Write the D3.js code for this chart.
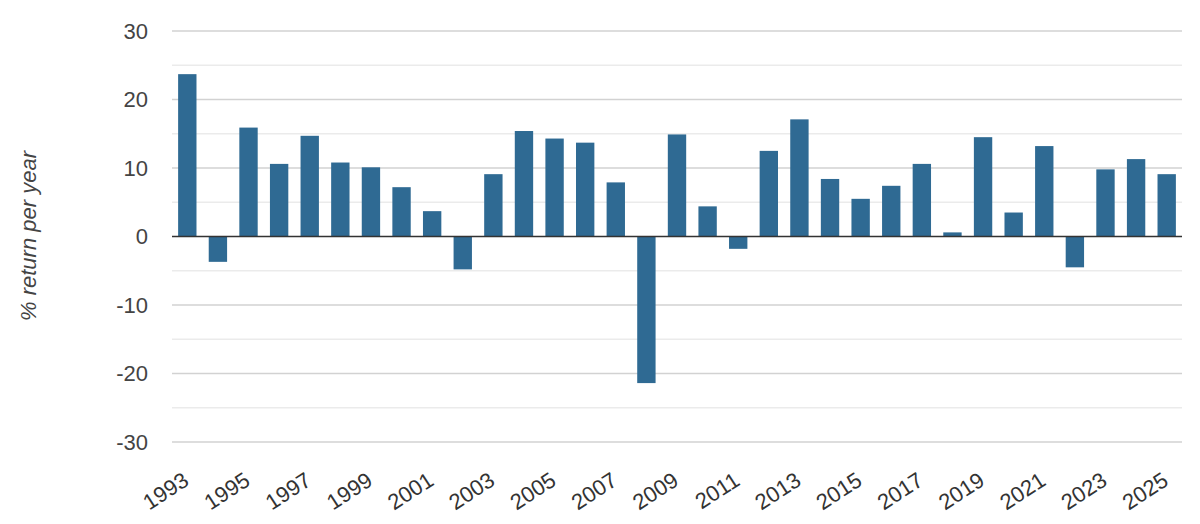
<!DOCTYPE html>
<html>
<head>
<meta charset="utf-8">
<script src="https://cdn.jsdelivr.net/npm/d3@7"></script>
<style>
  body { margin: 0; background: #fff; }
  text { font-family: Arial, "Liberation Sans", sans-serif; }
</style>
</head>
<body>
<div id="chart"></div>
<script>
// Data
const years = d3.range(1993, 2026).map(String);
const returns = [23.7, -3.7, 15.9, 10.6, 14.7, 10.8, 10.1, 7.2, 3.7, -4.8,
                 9.1, 15.4, 14.3, 13.7, 7.9, -21.4, 14.9, 4.4, -1.8, 12.5,
                 17.1, 8.4, 5.5, 7.4, 10.6, 0.6, 14.5, 3.5, 13.2, -4.5,
                 9.8, 11.3, 9.1];
const yTicks = [-30, -20, -10, 0, 10, 20, 30];
const yMinorTicks = [-25, -15, -5, 5, 15, 25];
const xLabels = years.filter((d, i) => i % 2 === 0);

// Size and margins
let svgWidth = 1200;
let svgHeight = 524;
let margin = { top: 31, right: 18, bottom: 82, left: 172 };
let width = svgWidth - margin.left - margin.right;
let height = svgHeight - margin.top - margin.bottom;

let svg = d3.select("#chart")
    .append("svg")
    .attr("width", svgWidth)
    .attr("height", svgHeight);

let chartGroup = svg.append("g")
    .attr("transform", `translate(${margin.left}, ${margin.top})`);

// Scales
let xScale = d3.scaleBand()
    .domain(years)
    .range([0, width])
    .paddingInner(0.4)
    .paddingOuter(0.2);

let yScale = d3.scaleLinear()
    .domain([-30, 30])
    .range([height, 0]);

// Gridlines
chartGroup.selectAll(".minor")
    .data(yMinorTicks)
    .enter()
    .append("line")
    .attr("x1", 0).attr("x2", width)
    .attr("y1", d => yScale(d)).attr("y2", d => yScale(d))
    .attr("stroke", "#ebebeb")
    .attr("stroke-width", 1.5);

chartGroup.selectAll(".major")
    .data(yTicks.filter(d => d !== 0))
    .enter()
    .append("line")
    .attr("x1", 0).attr("x2", width)
    .attr("y1", d => yScale(d)).attr("y2", d => yScale(d))
    .attr("stroke", "#d2d2d2")
    .attr("stroke-width", 1.5);

// Y axis labels (plain hyphen for negatives)
let leftAxis = d3.axisLeft(yScale)
    .tickValues(yTicks)
    .tickFormat(d => String(d))
    .tickSize(0)
    .tickPadding(24);
let yAxisG = chartGroup.append("g").call(leftAxis);
yAxisG.select(".domain").remove();
yAxisG.selectAll("text")
    .style("font-size", "22px")
    .attr("fill", "#444");

// Bars
chartGroup.selectAll("rect")
    .data(returns)
    .enter()
    .append("rect")
    .attr("x", (d, i) => xScale(years[i]))
    .attr("width", xScale.bandwidth())
    .attr("y", d => yScale(Math.max(0, d)))
    .attr("height", d => Math.abs(yScale(d) - yScale(0)))
    .attr("fill", "#2f6a93");

// Zero line
chartGroup.append("line")
    .attr("x1", 0).attr("x2", width)
    .attr("y1", yScale(0)).attr("y2", yScale(0))
    .attr("stroke", "#333")
    .attr("stroke-width", 1.5);

// X axis labels
let bottomAxis = d3.axisBottom(xScale).tickValues(xLabels).tickSize(0).tickPadding(0);
let xAxisG = chartGroup.append("g")
    .attr("transform", `translate(0, ${height})`)
    .call(bottomAxis);
xAxisG.select(".domain").remove();
xAxisG.selectAll("text")
    .style("font-size", "22px")
    .attr("fill", "#333")
    .attr("text-anchor", "end")
    .attr("dy", "0")
    .attr("transform", "translate(3, 42) rotate(-33)");

// Axis title
svg.append("text")
    .attr("transform", "rotate(-90)")
    .attr("x", -236)
    .attr("y", 36)
    .style("font-size", "22px")
    .style("font-style", "italic")
    .attr("fill", "#444")
    .attr("text-anchor", "middle")
    .text("% return per year");
</script>
</body>
</html>
